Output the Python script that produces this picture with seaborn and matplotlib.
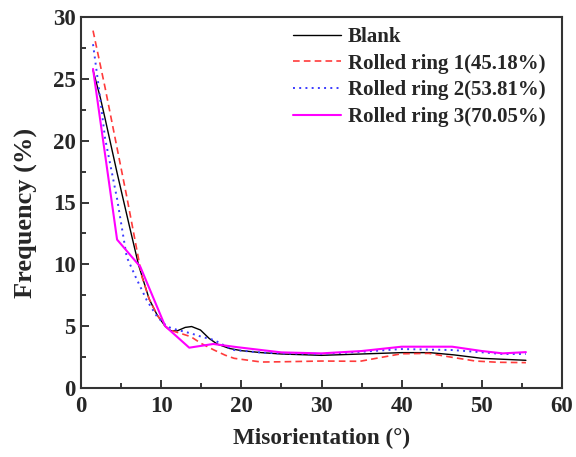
import numpy as np
import pandas as pd
import matplotlib
matplotlib.use("Agg")
import matplotlib.pyplot as plt
from matplotlib.ticker import MultipleLocator
import seaborn as sns

# Misorientation angle distributions (degrees vs. frequency %)
blank_x = [1.5, 2.4, 3.0, 4.5, 6.0, 7.2, 8.5, 9.5, 10.5, 11.2, 12.0, 13.0, 13.8, 14.9,
           16.0, 17.0, 18.5, 20.0, 22.5, 25.0, 30.0, 35.0, 40.0, 43.5, 46.5, 50.0, 55.5]
blank_y = [25.7, 23.5, 21.8, 17.4, 13.2, 9.9, 7.2, 5.9, 5.0, 4.63, 4.62, 4.9, 4.97, 4.69,
           4.0, 3.55, 3.2, 3.02, 2.86, 2.75, 2.64, 2.75, 2.86, 2.86, 2.68, 2.4, 2.24]

ring1_x = [1.5, 3.0, 4.5, 5.7, 7.6, 8.5, 9.5, 10.5, 11.2, 12.5, 13.7, 15.0, 16.6, 18.0,
           19.1, 20.0, 22.5, 25.0, 30.0, 34.8, 37.5, 40.0, 43.4, 46.3, 49.2, 52.0, 55.5]
ring1_y = [28.9, 24.3, 19.4, 15.5, 9.0, 7.2, 5.9, 5.0, 4.66, 4.4, 4.15, 3.6, 3.07, 2.65,
           2.4, 2.32, 2.1, 2.12, 2.18, 2.16, 2.48, 2.77, 2.8, 2.48, 2.18, 2.08, 2.05]

ring2_x = [1.5, 2.2, 3.0, 4.5, 5.7, 6.8, 8.2, 9.5, 10.75, 12.0, 13.7, 15.0, 16.6, 18.0,
           19.1, 20.0, 22.5, 25.0, 30.0, 35.0, 40.0, 46.3, 49.2, 52.6, 55.5]
ring2_y = [27.8, 24.4, 20.2, 15.3, 10.6, 9.0, 7.1, 5.76, 4.96, 4.7, 4.42, 4.15, 3.88, 3.4,
           3.07, 3.02, 2.86, 2.8, 2.75, 2.93, 3.15, 3.07, 2.93, 2.75, 2.75]

ring3_x = [1.5, 4.5, 7.4, 10.5, 13.5, 16.5, 19.5, 22.5, 25.0, 30.0, 35.0, 40.0, 46.3,
           50.0, 52.6, 55.5]
ring3_y = [25.8, 12.0, 9.8, 5.0, 3.26, 3.56, 3.3, 3.07, 2.88, 2.8, 2.99, 3.34, 3.34,
           2.99, 2.8, 2.9]

labels = ["Blank", "Rolled ring 1(45.18%)", "Rolled ring 2(53.81%)", "Rolled ring 3(70.05%)"]
colors = ["#000000", "#ff3b3b", "#3b3bff", "#ff00ff"]
styles = ["-", (0, (4, 2.5)), (0, (1, 2.2)), "-"]
widths = [1.0, 1.2, 1.4, 1.5]

sns.set_style("ticks")
plt.rcParams["font.family"] = ["Liberation Serif", "DejaVu Serif"]
plt.rcParams["font.weight"] = "bold"

fig = plt.figure(figsize=(5.76, 4.57), dpi=100)
ax = fig.add_axes([81 / 576, 1 - 388 / 457, 481 / 576, 371 / 457])

series = [(blank_x, blank_y), (ring1_x, ring1_y), (ring2_x, ring2_y), (ring3_x, ring3_y)]
for (xs, ys), lab, c, ls, lw in zip(series, labels, colors, styles, widths):
    df = pd.DataFrame({"x": xs, "y": ys})
    sns.lineplot(data=df, x="x", y="y", ax=ax, color=c, linestyle=ls, linewidth=lw,
                 label=lab, estimator=None, sort=True)

ax.set_xlim(0, 60)
ax.set_ylim(0, 30)
ax.xaxis.set_major_locator(MultipleLocator(10))
ax.xaxis.set_minor_locator(MultipleLocator(5))
ax.yaxis.set_major_locator(MultipleLocator(5))
ax.yaxis.set_minor_locator(MultipleLocator(2.5))
ax.tick_params(which="both", direction="in", top=False, right=False, width=1.3,
               labelsize=16.5)
ax.tick_params(axis="x", pad=6)
ax.tick_params(axis="y", pad=4)
ax.tick_params(which="major", length=6)
ax.tick_params(which="minor", length=3.5)
for lab in ax.get_xticklabels() + ax.get_yticklabels():
    lab.set_fontweight("bold")
for sp in ax.spines.values():
    sp.set_visible(True)
    sp.set_linewidth(1.5)
    sp.set_color("#333333")

ax.set_xlabel("Misorientation (°)", fontsize=16.7, fontweight="bold")
ax.set_ylabel("Frequency (%)", fontsize=19, fontweight="bold")
ax.xaxis.set_label_coords(0.5, (388 - 428) / 371)
ax.yaxis.set_label_coords((38 - 81) / 481, (388 - 213) / 371)

leg = ax.legend(loc="upper left", bbox_to_anchor=(293 / 576, 1 - 27 / 457),
                bbox_transform=fig.transFigure, frameon=False,
                handlelength=2.3, handletextpad=0.33, labelspacing=0.32,
                borderaxespad=0, borderpad=0,
                prop={"weight": "bold", "size": 15})

fig.savefig("out.png", dpi=100, facecolor="white")
